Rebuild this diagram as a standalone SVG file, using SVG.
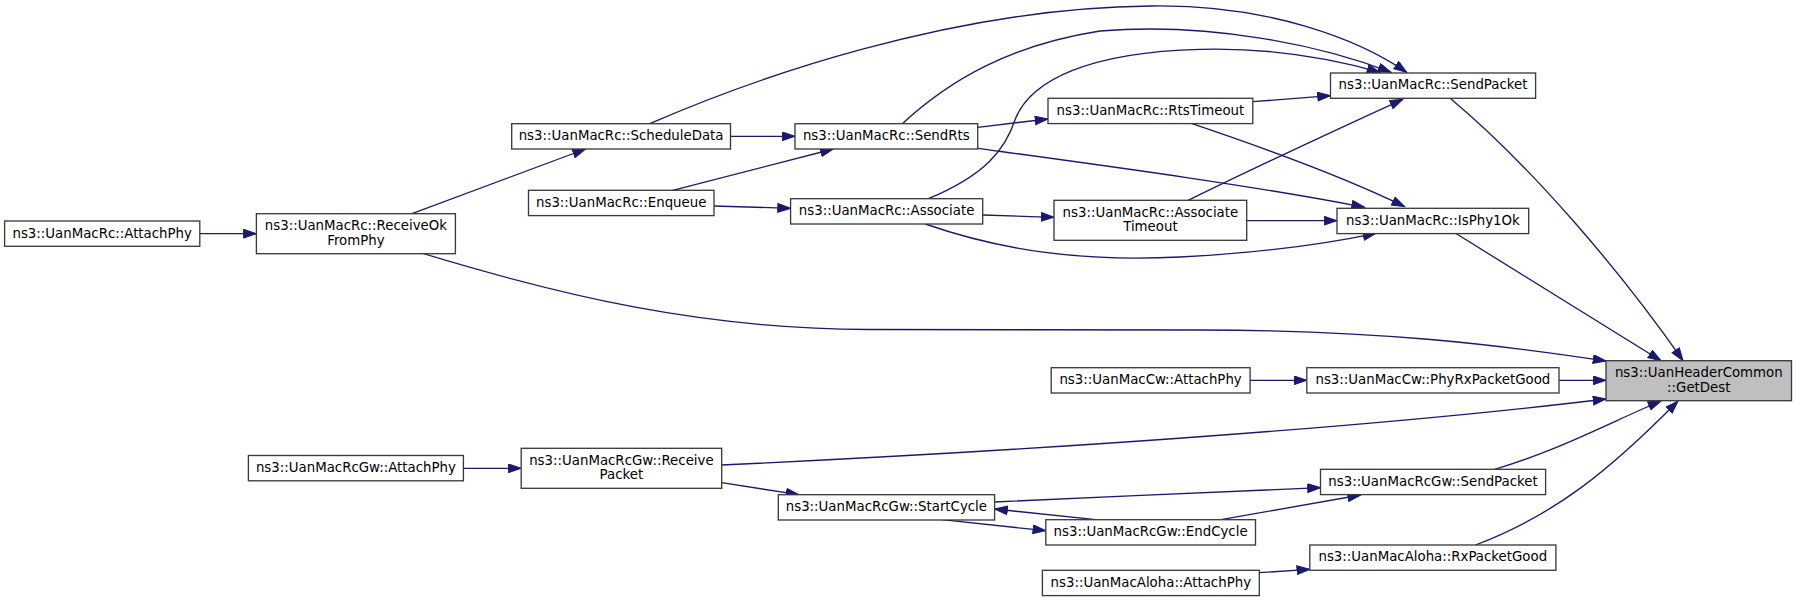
<svg xmlns="http://www.w3.org/2000/svg" width="1797" height="602" viewBox="0 0 1797 602">
<style>
.n rect{fill:#ffffff;stroke:#3a3a3a;stroke-width:1.33}
.n.root rect{fill:#bfbfbf}
.n text{font-family:"DejaVu Sans","Liberation Sans",sans-serif;font-size:13.33px;fill:#000;text-anchor:middle}
#edges path{fill:none;stroke:#191970;stroke-width:1.33;marker-end:url(#ah)}
</style>
<defs>
<marker id="ah" markerUnits="userSpaceOnUse" markerWidth="15" markerHeight="11" refX="13.3" refY="4.7" orient="auto">
<path d="M0.5,0.3 L13.3,4.7 L0.5,9.1 z" fill="#191970" stroke="#191970" stroke-width="1"/>
</marker>
</defs>
<rect x="0" y="0" width="1797" height="602" fill="#ffffff"/>
<g id="edges">
<path d="M199.8,233.7 L256.4,233.7"/>
<path d="M412,213.7 L585.5,149"/>
<path d="M423.6,253.7 C560,295 700,329 868,329.5 L1200,330 C1380,330 1500,345 1606,361"/>
<path d="M730.5,136.3 L795,136.3"/>
<path d="M649.8,123.7 C750,80 950,8 1150,6 C1270,4 1360,40 1406.7,72.3"/>
<path d="M672.7,190.3 L833.4,149"/>
<path d="M714,206 L790.6,208.3"/>
<path d="M977.7,127.3 L1048,119"/>
<path d="M902.3,123.7 C950,80 1010,45 1100,31 C1210,22 1320,45 1391,72.3"/>
<path d="M977.7,148.3 C1100,165 1250,185 1364.6,207.3"/>
<path d="M928.4,198.7 C985,175 1005,150 1015,120 C1030,80 1090,52 1200,49.3 C1270,47.5 1330,58 1380,72.3"/>
<path d="M982.7,215 L1054,217.3"/>
<path d="M925.3,224 C1000,250 1080,262 1180,257 C1260,253 1320,245 1376,233.3"/>
<path d="M1252.8,101.7 L1330.5,95.7"/>
<path d="M1192,123.7 C1270,150 1350,180 1404.7,206.7"/>
<path d="M1188,200.3 C1250,170 1340,128 1402.8,99.3"/>
<path d="M1246.7,220.7 L1337,220.7"/>
<path d="M1450.7,98.7 C1530,165 1620,270 1683,360.7"/>
<path d="M1455.6,233.3 L1661,360.7"/>
<path d="M1250.1,380.3 L1306.8,380.3"/>
<path d="M1559,380.3 L1606,380.3"/>
<path d="M463.4,468.3 L521.2,468.3"/>
<path d="M721.7,465 C1000,452 1350,430 1606,399"/>
<path d="M721.7,482.7 L799,494.7"/>
<path d="M994.6,502 C1100,497 1220,492 1320.5,487.7"/>
<path d="M941.8,519.7 L1045.8,530.7"/>
<path d="M1095.6,519.7 L994.6,509"/>
<path d="M1221,519.7 L1360.7,495"/>
<path d="M1494.7,469.3 C1560,450 1615,420 1661,401"/>
<path d="M1259.3,572.7 L1309.8,569.3"/>
<path d="M1475.5,545 C1555,515 1610,470 1678,401"/>
</g>
<g id="n_rc_attachphy" class="n"><rect x="4.6" y="221" width="195.2" height="25.3"/><text x="102.2" y="237.5">ns3::UanMacRc::AttachPhy</text></g>
<g id="n_rc_receiveok" class="n"><rect x="256.4" y="213.7" width="199" height="40"/><text x="355.9" y="230">ns3::UanMacRc::ReceiveOk</text><text x="355.9" y="244.7">FromPhy</text></g>
<g id="n_rc_scheduledata" class="n"><rect x="511.7" y="123.7" width="218.8" height="25.3"/><text x="621.1" y="140.1">ns3::UanMacRc::ScheduleData</text></g>
<g id="n_rc_enqueue" class="n"><rect x="528.5" y="190.3" width="185.5" height="25.3"/><text x="621.2" y="206.7">ns3::UanMacRc::Enqueue</text></g>
<g id="n_rc_sendrts" class="n"><rect x="795" y="123.7" width="182.7" height="25.3"/><text x="886.3" y="140.1">ns3::UanMacRc::SendRts</text></g>
<g id="n_rc_associate" class="n"><rect x="790.6" y="198.7" width="192.1" height="25.3"/><text x="886.6" y="215.1">ns3::UanMacRc::Associate</text></g>
<g id="n_rc_rtstimeout" class="n"><rect x="1048" y="98.3" width="204.8" height="25.3"/><text x="1150.4" y="114.7">ns3::UanMacRc::RtsTimeout</text></g>
<g id="n_rc_associatetimeout" class="n"><rect x="1054" y="200.3" width="192.7" height="40"/><text x="1150.4" y="216.6">ns3::UanMacRc::Associate</text><text x="1150.4" y="231.3">Timeout</text></g>
<g id="n_rc_sendpacket" class="n"><rect x="1330.5" y="73" width="205.1" height="25.3"/><text x="1433" y="89.4">ns3::UanMacRc::SendPacket</text></g>
<g id="n_rc_isphy1ok" class="n"><rect x="1337" y="208.3" width="191.7" height="25.3"/><text x="1432.9" y="224.7">ns3::UanMacRc::IsPhy1Ok</text></g>
<g id="n_getdest" class="n root"><rect x="1606" y="360.7" width="185.5" height="40"/><text x="1698.8" y="377">ns3::UanHeaderCommon</text><text x="1698.8" y="391.7">::GetDest</text></g>
<g id="n_cw_attachphy" class="n"><rect x="1051.2" y="367.7" width="198.9" height="25.3"/><text x="1150.6" y="384.1">ns3::UanMacCw::AttachPhy</text></g>
<g id="n_cw_phyrxpacketgood" class="n"><rect x="1306.8" y="367.7" width="252.2" height="25.3"/><text x="1432.9" y="384.1">ns3::UanMacCw::PhyRxPacketGood</text></g>
<g id="n_rcgw_attachphy" class="n"><rect x="248.4" y="455.5" width="215" height="25.3"/><text x="355.9" y="471.9">ns3::UanMacRcGw::AttachPhy</text></g>
<g id="n_rcgw_receivepacket" class="n"><rect x="521.2" y="448.3" width="200.5" height="40"/><text x="621.4" y="464.6">ns3::UanMacRcGw::Receive</text><text x="621.4" y="479.3">Packet</text></g>
<g id="n_rcgw_startcycle" class="n"><rect x="778.3" y="494.7" width="216.3" height="25.3"/><text x="886.4" y="511.1">ns3::UanMacRcGw::StartCycle</text></g>
<g id="n_rcgw_endcycle" class="n"><rect x="1045.8" y="519.7" width="209.7" height="25.3"/><text x="1150.6" y="536.1">ns3::UanMacRcGw::EndCycle</text></g>
<g id="n_rcgw_sendpacket" class="n"><rect x="1320.5" y="469.3" width="225.1" height="25.3"/><text x="1433" y="485.7">ns3::UanMacRcGw::SendPacket</text></g>
<g id="n_aloha_attachphy" class="n"><rect x="1042.4" y="570.3" width="216.9" height="25.3"/><text x="1150.8" y="586.7">ns3::UanMacAloha::AttachPhy</text></g>
<g id="n_aloha_rxpacketgood" class="n"><rect x="1309.8" y="545" width="246.1" height="25.3"/><text x="1432.8" y="561.4">ns3::UanMacAloha::RxPacketGood</text></g>
</svg>
